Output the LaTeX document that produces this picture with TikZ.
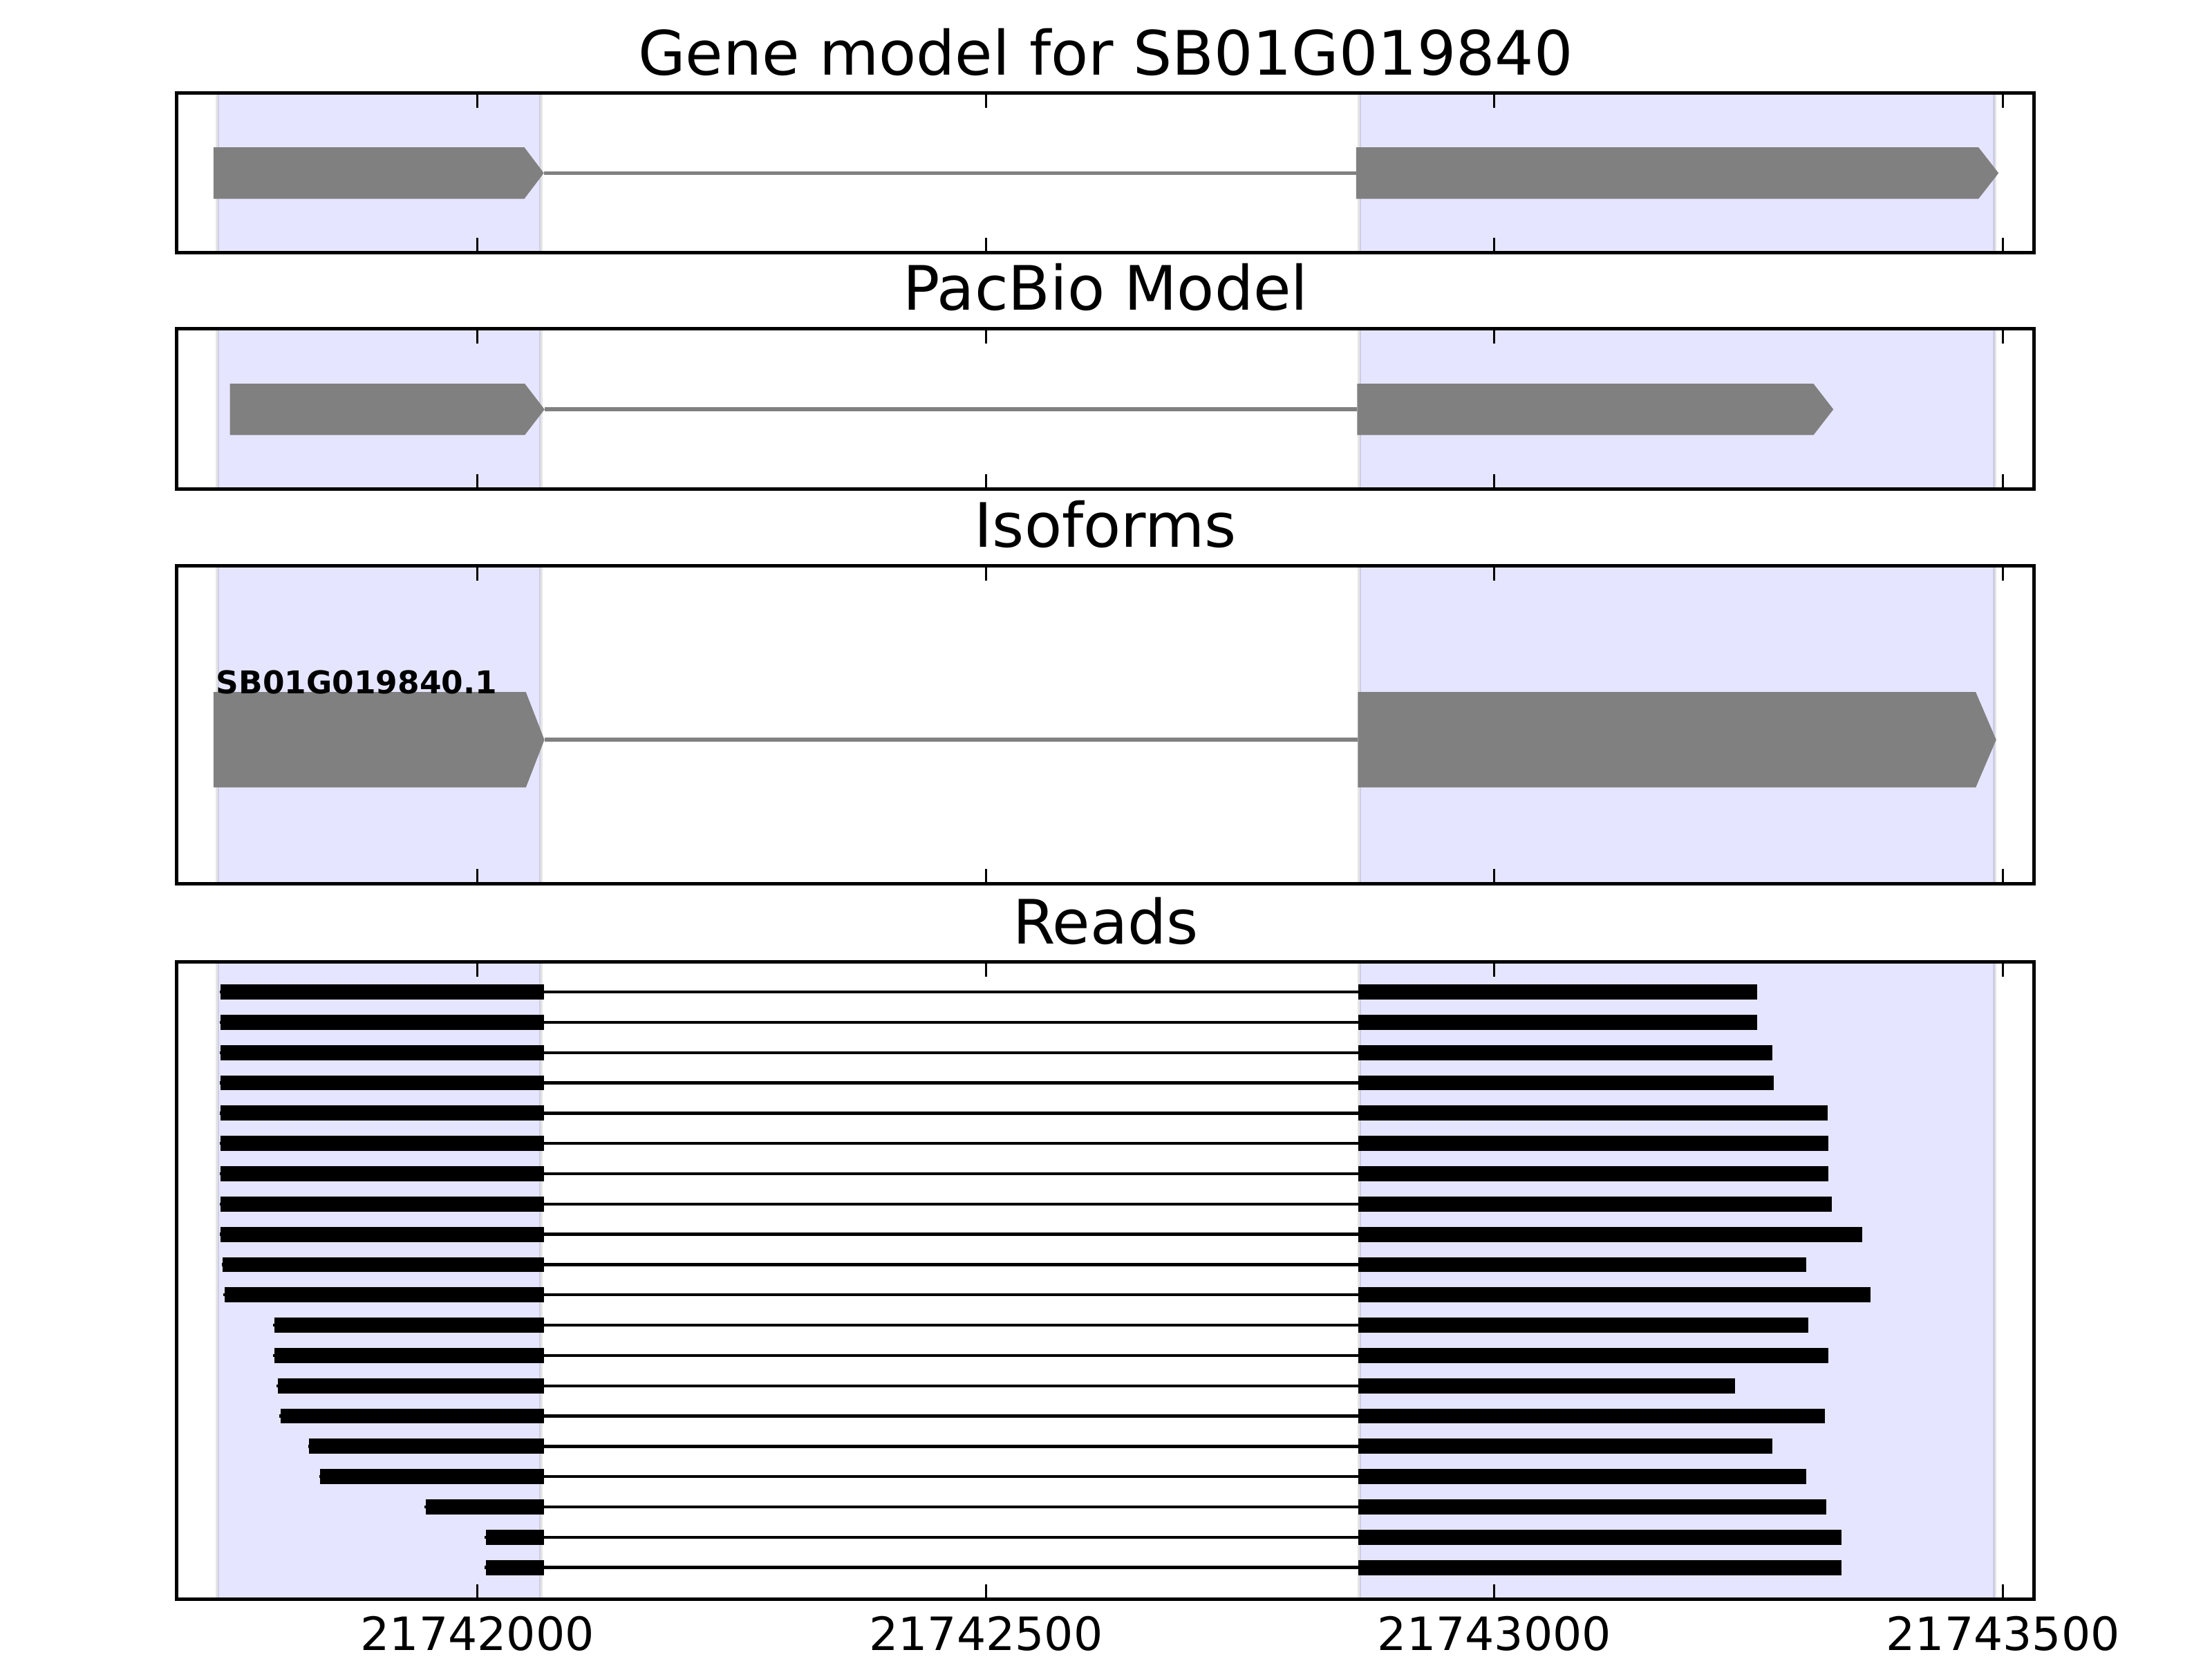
\documentclass[tikz,border=0pt]{standalone}
\usepackage{fontspec}
\setmainfont{DejaVu Sans}
\definecolor{bandblue}{RGB}{229,229,255}
\definecolor{exongray}{RGB}{128,128,128}

%% gene-model exon: left, body end, tip, y centre, half height
\newcommand{\exonarrow}[5]{%
  \fill[exon] (#1,{#4-#5}) -- (#2,{#4-#5}) -- (#3,#4) -- (#2,{#4+#5}) -- (#1,{#4+#5}) -- cycle;}

\begin{document}
\begin{tikzpicture}[x=0.0129592cm, y=-0.0129592cm,
    frame/.style={draw=black, line width=0.9pt},
    band/.style={fill=bandblue, draw=black, draw opacity=0.1, line width=0.9pt},
    tickmark/.style={draw=black, line width=0.5pt},
    exon/.style={fill=exongray},
    intron/.style={draw=exongray, line width=1pt},
    readblock/.style={fill=black},
    readline/.style={draw=black, line width=0.8pt},
    paneltitle/.style={font=\fontsize{16}{19}\selectfont, anchor=base, inner sep=0pt},
    ticklabel/.style={font=\fontsize{12}{14}\selectfont, anchor=base, inner sep=0pt},
    isolabel/.style={font=\fontsize{8.2}{10}\selectfont\bfseries, anchor=base west, inner sep=0pt}
  ]
    \useasboundingbox (0,0) rectangle (1568,1176);

    %% Panels: exon bands, ticks and titles
    \foreach \nm/\top/\bot/\ttl in {gene/66/179/{Gene model for SB01G019840},
        pacbio/233/346.5/{PacBio Model}, iso/401/626.5/{Isoforms}, reads/682/1133.5/{Reads}} {
      \path[band] (154.3,\top) rectangle (383.3,\bot);
      \path[band] (963.7,\top) rectangle (1414,\bot);
      \foreach \tx in {338.4,698.9,1059.3,1419.8} {
        \draw[tickmark] (\tx,\top) -- ++(0,10.5);
        \draw[tickmark] (\tx,\bot) -- ++(0,-10.5);
      }
      \node[paneltitle] (\nm-title) at (783.7,{\top-13}) {\ttl};
    }

    %% Gene model
    \draw[intron] (385.5,122.7) -- (961.3,122.7);
    \exonarrow{151.3}{371.7}{385.5}{122.7}{18.2}
    \exonarrow{961.3}{1402.5}{1416.7}{122.7}{18.2}

    %% PacBio model
    \draw[intron] (386,290.2) -- (962,290.2);
    \exonarrow{163}{372}{386}{290.2}{18.2}
    \exonarrow{962}{1285.5}{1299.6}{290.2}{18.2}

    %% Isoforms
    \draw[intron] (385.9,524.4) -- (962.5,524.4);
    \exonarrow{151.3}{372.8}{385.9}{524.4}{33.8}
    \exonarrow{962.5}{1400.5}{1415}{524.4}{33.8}
    \node[isolabel] (iso-label) at (152.8,491.5) {SB01G019840.1};

    %% Reads: start / end of each read
    \foreach \ls/\re [count=\i from 0] in {156.5/1245.4, 156.5/1245.4, 156.5/1256.3,
        156.5/1257.2, 156.5/1295.5, 156.5/1296, 156.5/1296, 156.5/1298.3,
        156.5/1319.8, 158/1280.3, 159.1/1325.9, 194.3/1281.6, 194.3/1295.8,
        197.1/1229.7, 199.1/1293.8, 219.2/1256.3, 227.1/1280.3, 301.9/1294.4,
        344.6/1305.4, 344.6/1305.4} {
      \pgfmathsetmacro\ry{703.2+\i*21.47}
      \draw[readline] ({\ls-0.9},\ry) -- (963,\ry);
      \fill[readblock] (\ls,{\ry-5.35}) rectangle (385.5,{\ry+5.35});
      \fill[readblock] (962.6,{\ry-5.35}) rectangle (\re,{\ry+5.35});
    }

    %% Axis labels
    \foreach \tx/\lbl [count=\i] in {338.4/21742000, 698.9/21742500,
        1059.3/21743000, 1419.8/21743500}
      \node[ticklabel] (tick-\i) at (\tx,1169.8) {\lbl};

    %% Frames
    \foreach \top/\bot in {66/179, 233/346.5, 401/626.5, 682/1133.5}
      \draw[frame] (125.3,\top) rectangle (1442,\bot);
  \end{tikzpicture}
\end{document}
